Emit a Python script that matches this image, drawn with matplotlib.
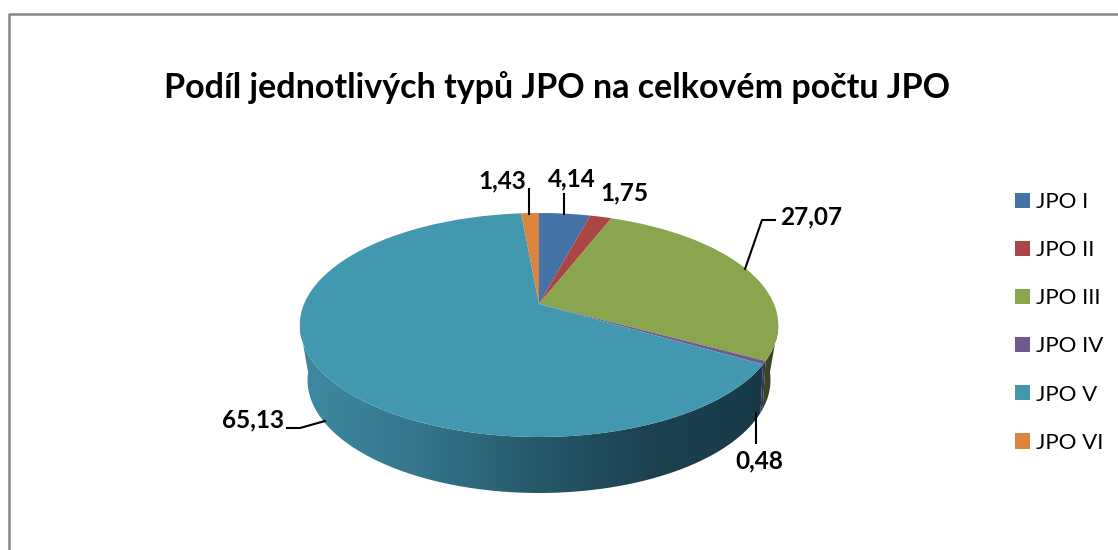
#!/usr/bin/env python3
"""3D-looking pie chart: share of JPO types, saved to out.png."""
import numpy as np
import matplotlib
matplotlib.use("Agg")
import matplotlib.pyplot as plt
from matplotlib.patches import Polygon, Rectangle
from matplotlib.transforms import Transform
from matplotlib.colors import LinearSegmentedColormap

title = "Podíl jednotlivých typů JPO na celkovém počtu JPO"
categories = ["JPO I", "JPO II", "JPO III", "JPO IV", "JPO V", "JPO VI"]
values = [4.14, 1.75, 27.07, 0.48, 65.13, 1.43]
value_labels = ["4,14", "1,75", "27,07", "0,48", "65,13", "1,43"]
colors = ["#4572A7", "#AA4643", "#89A54E", "#71588F", "#4198AF", "#DB843D"]

plt.rcParams["font.family"] = ["Lato", "DejaVu Sans"]


class Perspective(Transform):
    """Maps the unit pie disc to a tilted disc, in pixel coordinates."""
    input_dims = 2
    output_dims = 2

    def __init__(self, cx, cy, k, up, down):
        super().__init__()
        self.cx, self.cy, self.k = cx, cy, k
        self.c = (down - up) / (down + up)
        self.a = up * (1 + self.c)

    def transform_non_affine(self, values):
        values = np.asarray(values, dtype=float)
        x, y = values[:, 0], values[:, 1]
        d = 1 + self.c * y
        return np.column_stack([self.cx + self.k * x / d, self.cy - self.a * y / d])


top_face = Perspective(539, 304, 235, 91, 133)
bottom_face = Perspective(539, 351.5, 224, 84.5, 141.5)


def rim(face, start, end):
    # angles in degrees, clockwise from 12 o'clock
    t = np.radians(np.linspace(start, end, 80))
    return face.transform_non_affine(np.column_stack([np.sin(t), np.cos(t)]))


def band(start, end):
    return np.vstack([rim(top_face, start, end), rim(bottom_face, start, end)[::-1]])


fig = plt.figure(figsize=(11.18, 5.5), dpi=100)
ax = fig.add_axes([0, 0, 1, 1])

ends = np.cumsum(values) / sum(values) * 360
side_start = 100.8
side_end = 259.2

# side of the pie: only JPO III, IV and V face the viewer
ax.fill(*band(side_start, ends[2]).T, color="#3A4522", lw=0)
ax.fill(*band(ends[2], ends[3]).T, color="#3F2F55", lw=0)
side_cmap = LinearSegmentedColormap.from_list(
    "side", ["#3E8AA2", "#35768C", "#265A6B", "#1C4250", "#173A46"])
side_img = ax.imshow(np.linspace(0, 1, 256)[None, :], cmap=side_cmap, aspect="auto",
                     extent=(300, 765, 500, 310), zorder=1.5)
side_clip = Polygon(band(ends[3], side_end), transform=ax.transData)
side_img.set_clip_path(side_clip)

# top face
wedges, _ = ax.pie(values, colors=colors, startangle=90, counterclock=False,
                   wedgeprops={"transform": top_face + ax.transData, "linewidth": 0,
                               "zorder": 2})

ax.set_aspect("auto")
ax.set_xlim(0, 1118)
ax.set_ylim(550, 0)
ax.axis("off")

# chart frame
ax.plot([8.8, 8.8, 1118], [550, 13.5, 13.5], color="#868686", lw=1.8, zorder=3, clip_on=False)

ax.text(556.5, 88, title, fontsize=24.5, fontweight="bold", ha="center", va="center", color="black")

# data labels and leader lines
label_pos = [(572, 179), (624, 193), (811, 217), (759, 461), (253, 420), (502, 181)]
leaders = [
    [(564, 194), (564, 214)],
    None,
    [(775, 220), (762, 220), (745, 269)],
    [(756, 413), (756, 443)],
    [(287, 428), (300, 428), (325, 421)],
    [(529, 189), (529, 214)],
]
for text, (x, y), line in zip(value_labels, label_pos, leaders):
    ax.text(x, y, text, fontsize=17.6, fontweight="bold", ha="center", va="center", color="black")
    if line:
        ax.plot(*zip(*line), color="black", lw=1.5, zorder=3)

handles = [Rectangle((0, 0), 1, 1, facecolor=c, edgecolor="none") for c in colors]
ax.legend(handles, categories, loc="upper left", bbox_to_anchor=(1015 / 1118, 1 - 192 / 550),
          frameon=False, fontsize=16, handlelength=0.68, handleheight=0.68,
          handletextpad=0.25, labelspacing=1.267, borderpad=0, borderaxespad=0)

fig.savefig("out.png", dpi=100)
